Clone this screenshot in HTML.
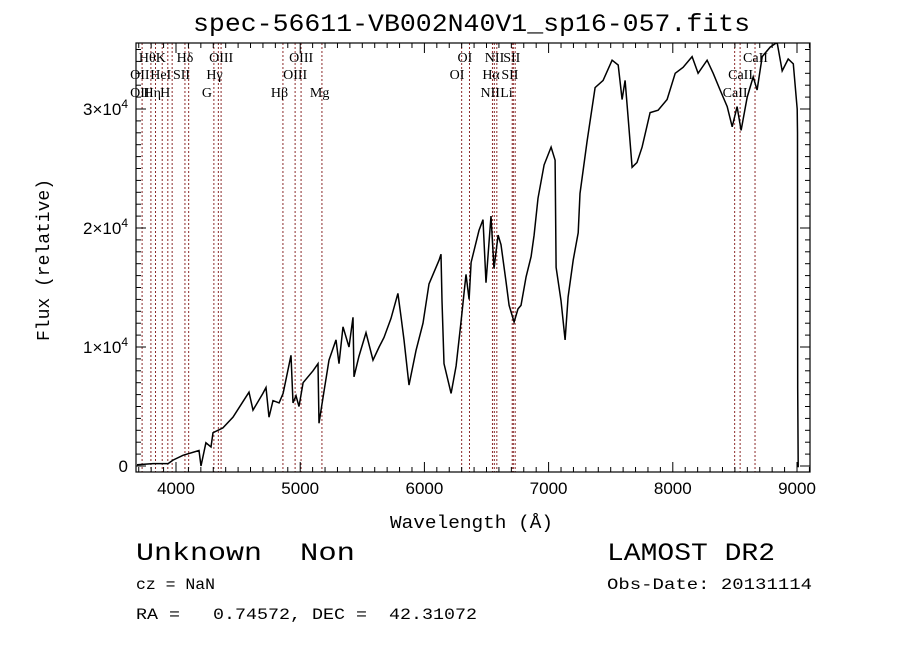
<!DOCTYPE html>
<html><head><meta charset="utf-8"><style>
html,body{margin:0;padding:0;background:#fff;}
svg{display:block;}
.mono{font-family:"Liberation Mono",monospace;}
.serif{font-family:"Liberation Serif",serif;}
.sans{font-family:"Liberation Sans",sans-serif;}
</style></head><body>
<svg id="chart" width="900" height="649" viewBox="0 0 900 649">
<rect x="0" y="0" width="900" height="649" fill="#fff"/>
<text x="193" y="31" textLength="557" lengthAdjust="spacingAndGlyphs" class="mono" font-size="25">spec-56611-VB002N40V1_sp16-057.fits</text>
<g id="lines"></g>
<g id="labels" class="serif" font-size="14"></g>
<g id="spec"></g>
<rect x="136" y="43" width="674" height="429" fill="none" stroke="#000" stroke-width="1.2"/>
<g id="ticks"></g>
<g id="xlabels" class="sans" font-size="17"></g>
<g id="ylabels" class="sans" font-size="17"></g>
<text x="390" y="528" textLength="163" lengthAdjust="spacingAndGlyphs" class="mono" font-size="18">Wavelength (Å)</text>
<text transform="translate(49,260) rotate(-90)" text-anchor="middle" class="mono" font-size="18">Flux (relative)</text>
<text x="136" y="560" textLength="126" lengthAdjust="spacingAndGlyphs" class="mono" font-size="25">Unknown</text>
<text x="300" y="560" textLength="55" lengthAdjust="spacingAndGlyphs" class="mono" font-size="25">Non</text>
<text x="607" y="560" textLength="168" lengthAdjust="spacingAndGlyphs" class="mono" font-size="25">LAMOST DR2</text>
<text x="136" y="589" textLength="79" lengthAdjust="spacingAndGlyphs" class="mono" font-size="16">cz = NaN</text>
<text x="607" y="589" textLength="205" lengthAdjust="spacingAndGlyphs" class="mono" font-size="16">Obs-Date: 20131114</text>
<text x="136" y="619" textLength="341" lengthAdjust="spacingAndGlyphs" class="mono" font-size="16" xml:space="preserve">RA =   0.74572, DEC =  42.31072</text>
</svg>
<script>
const wavelengths=[3686,3815,3936,3976,4056,4185,4201,4241,4282,4298,4378,4459,4539,4588,4620,4700,4725,4749,4781,4830,4862,4926,4942,4966,4990,5023,5103,5143,5151,5184,5232,5288,5312,5345,5393,5425,5433,5473,5530,5586,5635,5675,5731,5787,5812,5836,5876,5932,5989,6037,6118,6134,6142,6158,6215,6255,6295,6335,6360,6376,6440,6472,6496,6536,6560,6593,6617,6657,6682,6722,6754,6778,6819,6859,6883,6915,6964,7020,7052,7060,7100,7133,7157,7198,7238,7253,7310,7374,7439,7511,7560,7592,7616,7640,7672,7712,7753,7817,7882,7954,8019,8083,8155,8204,8276,8325,8381,8438,8478,8518,8550,8599,8647,8679,8720,8784,8840,8881,8929,8970,9002,9004,9006,9010];
const fluxes=[100,200,200,500,900,1300,0,1950,1600,2800,3200,4100,5400,6200,4700,6100,6600,4100,5500,5300,6100,9300,5300,5900,5000,7000,8000,8600,3600,5800,8900,10600,8600,11700,10000,12500,7500,9200,11200,8900,10000,10800,12400,14500,12500,10600,6800,9700,12000,15300,17300,17800,13900,8600,6100,8400,12100,16100,14000,17100,19800,20700,15400,21000,16600,19400,18600,15500,13500,12100,13200,13500,15900,17600,19400,22500,25300,26800,25700,16700,13900,10600,14200,17300,19600,22900,27300,31800,32400,34100,33700,30800,32400,29300,25100,25500,26800,29700,29900,30800,33000,33500,34400,33000,34100,33000,31600,30200,28500,30200,28200,31000,32700,31600,34400,35200,35600,33200,34200,33800,30000,28000,6500,-100];
const lineWaves=[3727,3798,3835,3889,3934,3969,4072,4102,4305,4341,4363,4861,4959,5007,5175,6300,6363,6548,6563,6583,6707,6716,6731,8498,8542,8662];
const labelTexts=["Hθ","K","Hδ","OIII","OIII","OII","HeI","SII","Hγ","OIII","OII","Hη","H","G","Hβ","Mg","OI","NII","SII","OI","Hα","SII","NII","Li","CaII","CaII","CaII"];
const labelWaves=[3798,3934,4102,4363,5007,3727,3889,4072,4341,4959,3727,3835,3969,4305,4861,5175,6363,6583,6731,6300,6563,6716,6548,6707,8662,8542,8498];
const labelRows=[0,0,0,0,0,1,1,1,1,1,2,2,2,2,2,2,0,0,0,1,1,1,2,2,0,1,2];
const xTicks=[4000,5000,6000,7000,8000,9000];
const yTicks=[0,10000,20000,30000];
const yTickLabels=["0","1×10","2×10","3×10"];

const X0=136,X1=810,Y0=43,Y1=472;
function xs(w){return 176+(w-4000)*0.1242;}
function ys(f){return 466-f*0.0119;}
const NS="http://www.w3.org/2000/svg";
function mk(tag,attrs,parent){const e=document.createElementNS(NS,tag);for(const k in attrs)e.setAttribute(k,attrs[k]);parent.appendChild(e);return e;}
const svg=document.getElementById('chart');
const defs=mk('defs',{},svg);const cp=mk('clipPath',{id:'pc'},defs);mk('rect',{x:X0,y:Y0,width:X1-X0,height:Y1-Y0},cp);

const gl=document.getElementById('lines');
lineWaves.forEach(w=>{
  const l=mk('line',{x1:xs(w),x2:xs(w),y1:Y0,y2:Y1,stroke:'#8b2a2a','stroke-width':1,'stroke-dasharray':'2,2'},gl);
  
  
});
const glab=document.getElementById('labels');
const rowY=[62,79,97];
labelTexts.forEach((t,i)=>{
  const e=mk('text',{x:xs(labelWaves[i])-12,y:rowY[labelRows[i]]},glab);
  e.textContent=t;
  
  
});
const gs=document.getElementById('spec');
gs.setAttribute('clip-path','url(#pc)');
let d='';
wavelengths.forEach((w,i)=>{d+=(i?'L':'M')+xs(w).toFixed(1)+','+ys(fluxes[i]).toFixed(1);});
const p=mk('path',{d:d,fill:'none',stroke:'#000','stroke-width':1.5,'stroke-linejoin':'miter'},gs);



const gt=document.getElementById('ticks');
for(let w=3700;w<=9100;w+=100){
  const x=xs(w);if(x<X0||x>X1)continue;
  const len=(w%1000===0)?10:5;
  mk('line',{x1:x,x2:x,y1:Y1,y2:Y1-len,stroke:'#000'},gt);
  mk('line',{x1:x,x2:x,y1:Y0,y2:Y0+len,stroke:'#000'},gt);
}
for(let f=0;f<=35000;f+=1000){
  const y=ys(f);if(y<Y0||y>Y1)continue;
  const len=(f%10000===0)?10:5;
  mk('line',{x1:X0,x2:X0+len,y1:y,y2:y,stroke:'#000'},gt);
  mk('line',{x1:X1,x2:X1-len,y1:y,y2:y,stroke:'#000'},gt);
}
const gx=document.getElementById('xlabels');
xTicks.forEach(w=>{
  const e=mk('text',{x:xs(w),y:Y1+22,'text-anchor':'middle'},gx);
  e.textContent=String(w);
  
  
});
const gy=document.getElementById('ylabels');
yTicks.forEach((f,i)=>{
  const e=mk('text',{x:128,y:ys(f)+6,'text-anchor':'end'},gy);
  
  
  if(f===0){e.textContent=yTickLabels[i];}
  else{
    const a=document.createElementNS(NS,'tspan');a.textContent=yTickLabels[i];e.appendChild(a);
    const b=document.createElementNS(NS,'tspan');b.setAttribute('dy','-7');b.setAttribute('font-size','12');b.textContent='4';e.appendChild(b);
  }
});
</script>
</body></html>
